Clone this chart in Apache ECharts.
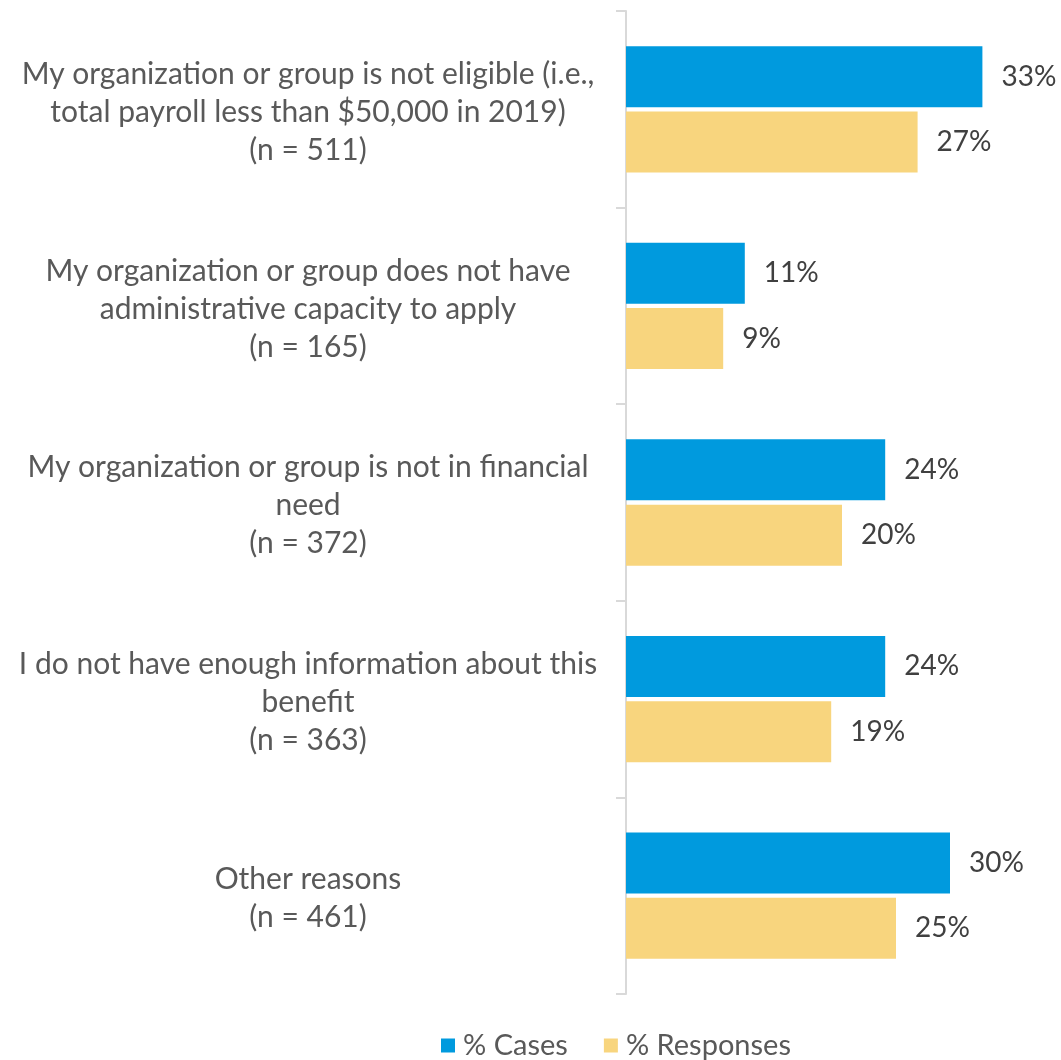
<!DOCTYPE html>
<html>
<head>
<meta charset="utf-8">
<script src="https://cdn.jsdelivr.net/npm/echarts@6/dist/echarts.min.js"></script>
<style>
  html, body { margin: 0; padding: 0; background: #fff; }
  #chart { width: 1061px; height: 1060px; }
</style>
</head>
<body>
<div id="chart"></div>
<script>
// Reasons for not applying, with number of respondents per reason
const categories = [
  'My organization or group is not eligible (i.e.,\ntotal payroll less than $50,000 in 2019)\n(n = 511)',
  'My organization or group does not have\nadministrative capacity to apply\n(n = 165)',
  'My organization or group is not in financial\nneed\n(n = 372)',
  'I do not have enough information about this\nbenefit\n(n = 363)',
  'Other reasons\n(n = 461)'
];
const seriesNames = ['% Cases', '% Responses'];
const casesPct = [33, 11, 24, 24, 30];
const responsesPct = [27, 9, 20, 19, 25];

const FONT = 'Lato, "Open Sans", sans-serif';
const chart = echarts.init(document.getElementById('chart'));

const valueLabel = {
  show: true,
  position: 'right',
  distance: 19,
  formatter: '{c}%',
  fontSize: 28,
  color: '#404040',
  fontFamily: FONT
};

chart.setOption({
  animation: false,
  textStyle: { fontFamily: FONT },
  grid: { left: 626, right: 3, top: 11, bottom: 66, containLabel: false },
  legend: {
    top: 1026,
    left: 436,
    itemWidth: 14,
    itemHeight: 14,
    itemGap: 36,
    icon: 'rect',
    textStyle: { fontSize: 29, color: '#595959', fontFamily: FONT, padding: [0, 0, 0, 3] },
    data: seriesNames
  },
  xAxis: {
    type: 'value',
    min: 0,
    max: 40,
    show: false,
    splitLine: { show: false }
  },
  yAxis: {
    type: 'category',
    inverse: true,
    data: categories,
    axisLine: { show: true, lineStyle: { color: '#d9d9d9', width: 2 } },
    axisTick: { show: true, length: 10, lineStyle: { color: '#d9d9d9', width: 2 } },
    axisLabel: {
      margin: 28,
      formatter: v => v.split('\n').map(s => '{t|' + s + '}').join('\n'),
      rich: {
        t: {
          width: 580,
          align: 'center',
          fontSize: 30,
          lineHeight: 38,
          color: '#595959',
          fontFamily: FONT,
          padding: [6, 0, 0, 0]
        }
      }
    }
  },
  series: [
    {
      name: seriesNames[0],
      type: 'bar',
      data: casesPct,
      barWidth: 61,
      barGap: '7%',
      itemStyle: { color: '#009ade' },
      label: valueLabel
    },
    {
      name: seriesNames[1],
      type: 'bar',
      data: responsesPct,
      barWidth: 61,
      barGap: '7%',
      itemStyle: { color: '#f8d57e' },
      label: valueLabel
    }
  ]
});
</script>
</body>
</html>
